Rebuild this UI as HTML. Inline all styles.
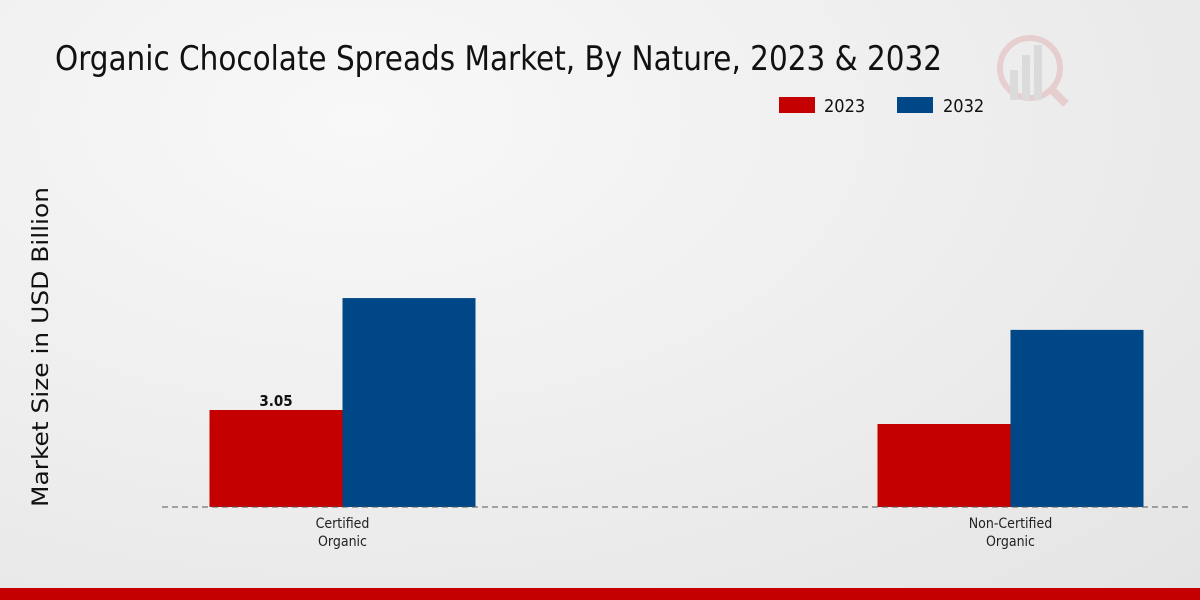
<!DOCTYPE html>
<html><head><meta charset="utf-8">
<style>
html,body{margin:0;padding:0}
body{width:1200px;height:600px;overflow:hidden;background:radial-gradient(ellipse at 30% 20%,#f8f8f8 0%,#ececec 60%,#e4e4e4 100%);font-family:"DejaVu Sans Condensed","DejaVu Sans","Liberation Sans",sans-serif;position:relative}
svg{position:absolute;left:0;top:0}
</style></head><body>
<svg width="1200" height="600">
<text x="55" y="70" font-size="34" fill="#111" textLength="887" lengthAdjust="spacingAndGlyphs">Organic Chocolate Spreads Market, By Nature, 2023 &amp; 2032</text>
<g opacity="0.35">
<circle cx="1030" cy="68" r="30" fill="none" stroke="#d99" stroke-width="6"/>
<rect x="1010" y="70" width="8" height="30" fill="#bbb"/><rect x="1022" y="55" width="8" height="45" fill="#bbb"/><rect x="1034" y="45" width="8" height="55" fill="#bbb"/>
<line x1="1052" y1="90" x2="1066" y2="104" stroke="#d99" stroke-width="8"/>
</g>
<g>
<rect x="779" y="97" width="36" height="16" fill="#c40000"/>
<text x="824" y="112" font-size="18" fill="#111">2023</text>
<rect x="897" y="97" width="36" height="16" fill="#004788"/>
<text x="943" y="112" font-size="18" fill="#111">2032</text>
</g>
<text transform="translate(48,347) rotate(-90)" text-anchor="middle" font-size="22" fill="#111" font-family="DejaVu Sans, sans-serif" textLength="320" lengthAdjust="spacingAndGlyphs">Market Size in USD Billion</text>
<g id="bars"></g>
<line x1="162" y1="507" x2="1190" y2="507" stroke="#555" stroke-width="1" stroke-dasharray="6,4"/>
<rect x="0" y="588" width="1200" height="12" fill="#c40000"/>
</svg>
<script>
const categories=["Certified\nOrganic","Non-Certified\nOrganic"];
const values2023=[3.05,2.61];
const values2032=[6.57,5.57];
const labels2023=["3.05",""];
const g=document.getElementById('bars');
const NS="http://www.w3.org/2000/svg";
const baseY=507, pxPerUnit=31.8;
function yScale(v){return baseY-v*pxPerUnit;}
function xCenter(i){return 342.5+i*668;}
const bw=133;
categories.forEach((c,i)=>{
  const cx=xCenter(i);
  [[values2023[i],"#c40000",cx-bw,"2023"],[values2032[i],"#004788",cx,"2032"]].forEach(([v,col,x,s])=>{
    const r=document.createElementNS(NS,'rect');
    r.setAttribute('x',x);r.setAttribute('y',yScale(v));r.setAttribute('width',bw);r.setAttribute('height',baseY-yScale(v));r.setAttribute('fill',col);
    
    
    g.appendChild(r);
  });
  if(labels2023[i]){
    const t=document.createElementNS(NS,'text');
    t.setAttribute('x',cx-bw/2);t.setAttribute('y',yScale(values2023[i])-4);t.setAttribute('text-anchor','middle');t.setAttribute('font-size','15');t.setAttribute('font-weight','bold');t.setAttribute('fill','#111');
    t.textContent=labels2023[i];
    
    
    g.appendChild(t);
  }
  c.split("\n").forEach((ln,k)=>{
    const t=document.createElementNS(NS,'text');
    t.setAttribute('x',cx);t.setAttribute('y',528+k*18);t.setAttribute('text-anchor','middle');t.setAttribute('font-size','14');t.setAttribute('fill','#222');
    t.textContent=ln;
    
    
    g.appendChild(t);
  });
});
</script>
</body></html>
